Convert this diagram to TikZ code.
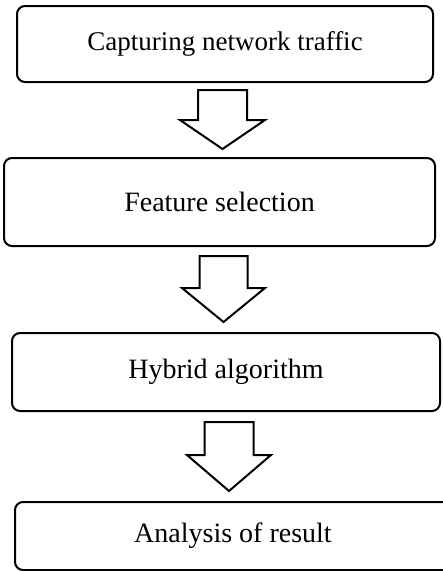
\documentclass[tikz,border=0pt]{standalone}
\usepackage{fontspec}
\setmainfont{Liberation Serif}
\usetikzlibrary{calc}
\tikzset{
  stepbox/.style={draw=black, line width=2pt, rounded corners=8pt, fill=white, inner sep=0pt},
  blockarr/.style={draw=black, line width=2pt, fill=white, line join=miter},
}
% #1 start coordinate, #2 tip coordinate, #3 shaft half width, #4 head half width, #5 head length
\newcommand\blockarrow[5]{%
  \draw[blockarr] ($(#1)+(-#3,0)$) -- ($(#1)+(#3,0)$) -- ($(#2)+(#3,-#5)$) -- ($(#2)+(#4,-#5)$)
    -- (#2) -- ($(#2)+(-#4,-#5)$) -- ($(#2)+(-#3,-#5)$) -- cycle;}
\begin{document}
\begin{tikzpicture}[x=1pt,y=-1pt]
\useasboundingbox (0,0) rectangle (443,571);
\clip (0,0) rectangle (443,571);
\node[stepbox, minimum width=416pt, minimum height=76pt, font=\fontsize{27}{32}\selectfont] (b1) at (225,44) {Capturing network traffic};
\node[stepbox, minimum width=431pt, minimum height=88pt, font=\fontsize{28}{33}\selectfont] (b2) at (219.5,202) {Feature selection};
\node[stepbox, minimum width=428pt, minimum height=78pt, font=\fontsize{28}{33}\selectfont] (b3) at (226,372) {Hybrid algorithm};
\node[stepbox, minimum width=436pt, minimum height=68pt, font=\fontsize{28}{33}\selectfont] (b4) at (233,536) {Analysis of result};
\coordinate (a1s) at (222.5,90);
\coordinate (a1e) at (222.5,149);
\coordinate (a2s) at (223.5,256);
\coordinate (a2e) at (223.5,322);
\coordinate (a3s) at (229,422);
\coordinate (a3e) at (229,491);
\blockarrow{a1s}{a1e}{24.5}{42.5}{29}
\blockarrow{a2s}{a2e}{24}{41.5}{34}
\blockarrow{a3s}{a3e}{24.5}{42}{36}
\end{tikzpicture}
\end{document}
